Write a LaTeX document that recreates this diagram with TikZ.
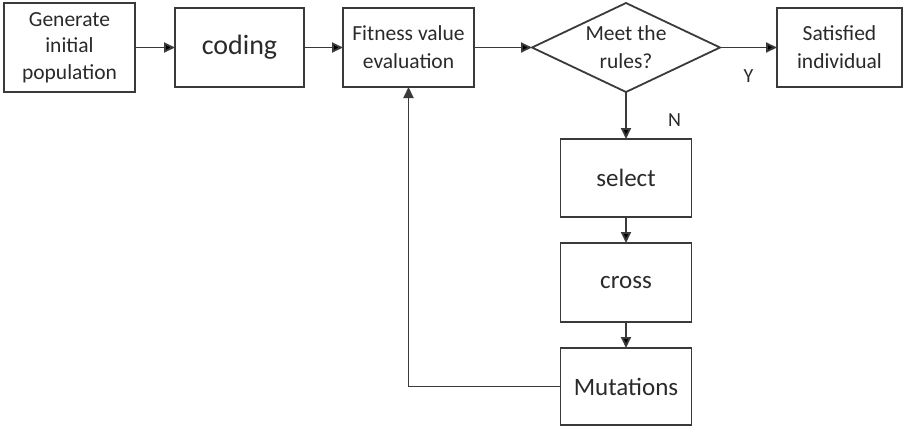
\documentclass[tikz,border=0pt]{standalone}
\usepackage{fontspec}
\setmainfont{Carlito}
\usetikzlibrary{shapes.geometric, arrows.meta, positioning}

\definecolor{linegray}{HTML}{3A3A3A}
\definecolor{textgray}{HTML}{2A2A2A}

\tikzset{
    box/.style={draw=linegray, line width=1.8pt, rectangle, align=center,
        text=textgray, inner sep=2pt, outer sep=0pt},
    decision/.style={draw=linegray, line width=1.8pt, diamond, aspect=2.1,
        align=center, text=textgray, inner sep=0pt, outer sep=0pt,
        minimum width=188pt, minimum height=89pt},
    flow/.style={draw=linegray, line width=1.8pt,
        -{Triangle[length=11pt, width=10pt]}},
    answer/.style={text=textgray, font=\fontsize{20}{24}\selectfont}
}

\begin{document}
\begin{tikzpicture}[x=1pt, y=1pt, auto]
        \useasboundingbox (0,0) rectangle (905,-429);

        \node (gen) [box, minimum width=131pt, minimum height=89pt,
            font=\fontsize{21.5}{26.5}\selectfont] at (69.5,-47.5)
            {Generate\\initial\\population};
        \node (coding) [box, right=40pt of gen, minimum width=129pt,
            minimum height=79pt, font=\fontsize{28}{32}\selectfont] {coding};
        \node (fit) [box, right=39pt of coding, minimum width=131pt,
            minimum height=79pt, font=\fontsize{21.5}{28}\selectfont]
            {Fitness value\\evaluation};
        \node (rules) [decision, right=58pt of fit,
            font=\fontsize{21.5}{28}\selectfont] {Meet the\\rules?};
        \node (sat) [box, right=57pt of rules, minimum width=125pt,
            minimum height=79pt, font=\fontsize{21.5}{28}\selectfont]
            {Satisfied\\individual};

        \node (sel) [box, below=47pt of rules, minimum width=131pt,
            minimum height=78pt, font=\fontsize{25}{30}\selectfont] {select};
        \node (cro) [box, below=26pt of sel, minimum width=131pt,
            minimum height=79pt, font=\fontsize{25}{30}\selectfont] {cross};
        \node (mut) [box, below=26pt of cro, minimum width=131pt,
            minimum height=77pt, font=\fontsize{25}{30}\selectfont] {Mutations};

        \path[flow]
        (gen) edge (coding)
        (coding) edge (fit)
        (fit) edge (rules)
        (rules) edge node [answer, below=18pt] {Y} (sat)
        (rules) edge node [answer, right=38pt, pos=0.6] {N} (sel)
        (sel) edge (cro)
        (cro) edge (mut);

        \draw[flow] (mut.west) -| (fit.south);

    \end{tikzpicture}
\end{document}
